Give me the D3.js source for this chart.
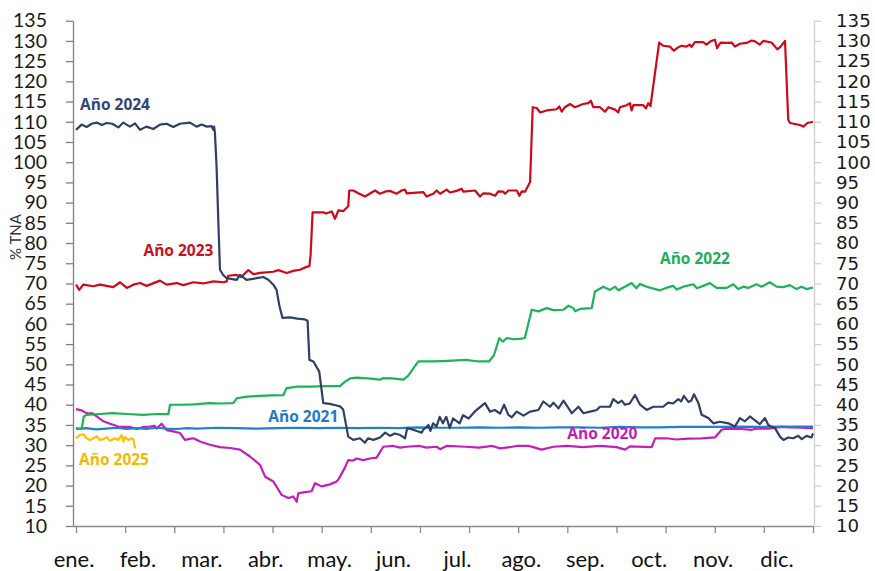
<!DOCTYPE html>
<html><head><meta charset="utf-8">
<script src="https://cdn.jsdelivr.net/npm/d3@7"></script>
<style>html,body{margin:0;padding:0;background:#fff}svg{display:block}</style>
</head><body>
<svg id="chart" width="875" height="571"></svg>
<script>
// ---------- DATA (day of year, % TNA) ----------
const months = ["ene.","feb.","mar.","abr.","may.","jun.","jul.","ago.","sep.","oct.","nov.","dic."];
const yTicks = [10,15,20,25,30,35,40,45,50,55,60,65,70,75,80,85,90,95,100,105,110,115,120,125,130,135];
const xTickDays = [0,24.4,48.8,73.2,97.6,122,146.4,170.8,195.2,219.6,244,268.4,292.8,317.2,341.6,366];

const s2020 = [[0,38.9],[2.8,38.6],[4.5,38.1],[6.1,37.8],[8,37.9],[10.3,37.1],[13.6,35.9],[16.9,35.3],[21,34.6],[23.5,34.5],[27,34.5],[30.1,34.0],[33.5,34.5],[36.8,34.6],[39,34.8],[40.1,34.1],[42.5,35.3],[45,33.7],[48.3,33.4],[51.6,33.0],[54.1,31.3],[56,31.5],[58.3,31.7],[61.6,30.9],[66.5,30.1],[71.5,29.5],[76.5,29.3],[81.4,28.9],[86.4,27.2],[91.4,25.1],[93.9,22.2],[98,21.0],[102.1,17.7],[105.4,16.9],[107.9,17.3],[109.6,16.0],[110.4,18.1],[112.9,18.3],[117,18.6],[118.7,20.6],[122,19.8],[126.1,20.3],[129.4,21.0],[130.3,21.5],[133.6,24.5],[135.2,26.3],[137.7,26.2],[139.4,26.7],[142.7,26.3],[146,26.7],[149.3,26.9],[152.6,29.6],[157.6,29.8],[161,29.4],[164.2,29.6],[170.8,29.8],[174,29.4],[179.1,29.6],[180.8,29.0],[184,29.8],[193.5,29.6],[200.1,29.4],[206.7,29.8],[210.6,29.2],[216.6,29.6],[218.9,29.8],[224.9,29.8],[227.1,29.5],[231.2,28.9],[237.1,29.6],[243.7,29.8],[251.9,29.5],[260.2,29.8],[268.5,29.5],[272.6,28.9],[275.1,29.7],[285.9,29.5],[287.6,31.7],[293.4,31.7],[298,31.4],[304.1,31.6],[310.7,31.7],[317.3,31.9],[320.6,33.8],[322.3,34.0],[330.6,34.0],[335.5,33.8],[338,34.1],[343.8,34.1],[350.4,34.5],[355,34.4],[360.4,34.3],[366,34.2]];

const s2021 = [[0,34.0],[5,34.2],[10,33.9],[15,34.1],[20,34.3],[25,34.0],[30,34.2],[35,34.0],[40,34.3],[45,34.1],[50,34.0],[55,34.2],[60,34.1],[70,34.3],[80,34.2],[90,34.1],[100,34.2],[110,34.3],[120,34.2],[130,34.3],[140,34.2],[150,34.3],[160,34.2],[170,34.4],[180,34.3],[190,34.3],[200,34.4],[210,34.3],[220,34.4],[230,34.3],[240,34.4],[250,34.4],[260,34.3],[270,34.5],[280,34.4],[290,34.4],[300,34.5],[310,34.5],[320,34.5],[330,34.6],[340,34.5],[350,34.6],[360,34.6],[366,34.6]];

const s2022 = [[0,34.2],[2.8,34.0],[3.9,37.1],[5.3,37.5],[11.9,37.7],[18,37.9],[25.2,37.7],[33.4,37.5],[40,37.7],[45.9,37.7],[46.7,40.0],[52,40.0],[58.3,40.1],[66.5,40.4],[72,40.3],[78.1,40.4],[79.8,41.6],[85,42.0],[91.4,42.2],[97,42.3],[103,42.4],[104.6,44.1],[110,44.5],[116.2,44.5],[124,44.6],[131.1,44.6],[133.6,45.7],[136.1,46.5],[139.4,46.7],[145,46.5],[151,46.2],[152.5,46.6],[157,46.5],[162.6,46.2],[165,47.2],[170,50.7],[177.1,50.7],[182,50.8],[186.9,50.9],[193.5,51.1],[200.1,50.7],[205.1,50.7],[207.6,52.3],[210.2,56.5],[211.9,55.6],[214,56.5],[217,56.2],[220.5,56.3],[222.9,56.5],[226.3,63.5],[229.6,63.1],[233.8,63.9],[237.1,63.4],[242.1,63.5],[244.6,64.5],[247,63.9],[247.8,63.1],[250.3,63.7],[256.1,63.9],[257.7,68.0],[261.9,69.2],[265.2,68.4],[267.7,69.2],[269.3,68.3],[272.6,69.2],[275.9,70.1],[278.3,68.8],[280,69.9],[283.4,69.2],[290,68.3],[293,68.9],[296.6,69.4],[298.3,68.5],[301.6,69.2],[306.6,69.8],[308.3,68.8],[311.5,69.4],[314.8,70.1],[318.1,68.9],[323.1,68.9],[326.4,69.8],[328.9,68.6],[331.3,69.2],[333.8,68.9],[337.9,69.8],[340.4,69.2],[344.5,70.3],[347.9,69.2],[351.2,69.1],[354.5,69.6],[357.8,68.6],[360.3,69.2],[362.8,68.6],[366,69.0]];

const s2023 = [[0,69.7],[1.6,68.4],[3.6,69.7],[8.6,69.3],[11.9,69.7],[18.5,69.1],[21.9,70.3],[25.2,68.9],[28.5,69.7],[31.8,70.1],[35.1,69.4],[41.7,70.7],[45,69.7],[50,70.1],[53.3,69.6],[58.3,70.3],[63.2,70.0],[68.2,70.5],[73.2,70.3],[74.8,70.5],[75.6,71.9],[79.8,72.1],[82,71.6],[85.6,73.3],[88.1,72.3],[91.4,72.6],[98,72.9],[100.5,73.3],[104.6,72.6],[107.9,73.1],[111.2,73.4],[114.5,74.1],[115.9,74.3],[116.5,77],[117.5,87.6],[122.8,87.6],[124.1,87.3],[127,87.8],[128.6,86.0],[130.3,88.1],[132.8,87.9],[135.2,89.1],[135.7,93.0],[137.7,93.0],[140.2,92.3],[143.5,91.5],[148.5,93.0],[150.9,92.2],[153.4,92.7],[155.9,92.9],[159.2,92.2],[161.7,93.0],[163.4,93.2],[164.2,92.3],[172.5,92.6],[174.1,91.5],[177.4,92.2],[179.1,93.0],[180.8,92.2],[184.1,93.2],[185.7,92.5],[189,92.9],[191.5,93.4],[192.4,92.7],[198.2,93.0],[200.6,91.5],[202.3,92.3],[205.6,92.2],[208.1,91.7],[209.8,92.8],[212.2,92.7],[213.1,92.2],[214.7,93.0],[218.9,93.0],[220.2,91.7],[221.4,92.8],[223,92.7],[225.5,95.1],[226.8,113.6],[228.8,113.4],[230.5,112.3],[233.8,112.8],[238.7,113.1],[240,113.8],[241.2,112.5],[242.8,113.6],[245.3,114.4],[247.8,113.6],[250.3,114.1],[251.9,114.4],[254.4,114.6],[255.7,115.2],[256.9,113.6],[260.2,113.6],[262.7,112.5],[264.4,113.6],[267.7,113.0],[269.3,112.3],[270.1,113.6],[273.4,114.1],[275.1,114.6],[275.9,112.8],[276.8,114.1],[281.7,114.1],[283,113.3],[284.2,114.6],[285.3,113.9],[289.6,129.6],[291.6,128.8],[294.9,128.6],[296.9,127.6],[299,128.4],[300.7,128.8],[303.2,128.6],[304.8,129.1],[305.7,128.5],[307.3,129.7],[311.5,129.7],[313.1,129.1],[315.1,129.9],[317.3,130.3],[318.4,128.2],[320.1,129.6],[323.1,129.5],[325.6,129.6],[327.2,128.6],[329.7,129.3],[333,129.5],[335.5,130.1],[337.2,129.9],[339.6,129.1],[341.3,130.0],[345.4,129.6],[348.3,127.9],[349.9,128.6],[352.1,130.0],[353.7,110.5],[354.6,109.7],[359.5,109.2],[361.2,108.8],[363.2,109.7],[366,110.0]];

const s2024 = [[0,108.0],[2.8,109.3],[5.3,108.7],[7.8,109.5],[10.3,109.8],[12.8,109.2],[15.2,109.7],[18,109.5],[21,108.6],[23.5,109.8],[26.8,108.8],[29.3,109.6],[31.8,108.0],[35,108.8],[38.4,108.2],[41.7,109.3],[45,109.5],[48.3,108.7],[51.6,109.5],[56.6,109.8],[59.9,108.8],[62.4,109.3],[64.9,108.8],[67.4,108.9],[68.2,108.0],[68.6,108.8],[69,107.2],[69.8,98.9],[70.6,86.6],[71.5,73.4],[73.1,72.1],[74.8,71.3],[79.8,70.9],[81.4,72.1],[84.7,70.9],[89.7,71.3],[93,71.6],[95.5,70.9],[98,69.7],[99.6,68.4],[101,64.5],[102.5,61.5],[106.3,61.6],[110,61.3],[113.7,61.1],[115,60.8],[115.9,51.1],[117.9,50.7],[120.8,48.2],[122.8,40.4],[126.1,40.2],[129.4,39.8],[131.1,39.6],[132.7,38.8],[135.2,32.1],[137.7,31.3],[141,31.7],[143.5,30.6],[145,31.7],[147.7,31.3],[151,31.9],[153.5,33.1],[156,32.3],[158.4,32.9],[161,32.5],[163.4,31.7],[164.5,34.2],[167,33.9],[169.2,33.5],[171.7,33.1],[172.5,33.9],[173.4,34.2],[175,35.0],[176,33.5],[177.3,35.4],[179,34.6],[180.6,37.0],[182.2,35.4],[183.9,37.0],[185.6,34.2],[187.2,36.6],[190.5,35.4],[192.2,37.4],[195,36.6],[198.4,38.5],[203.1,40.4],[205.6,38.3],[208,38.7],[210.6,37.8],[212.6,40.0],[214.7,37.5],[216.4,36.9],[218.9,38.3],[222.2,37.3],[225.5,38.3],[229.6,38.7],[232.1,40.8],[235.4,39.5],[237.1,40.5],[239.6,39.1],[242.1,41.0],[246.2,37.9],[249.5,39.5],[252,37.9],[255.3,38.3],[258.6,38.7],[260.2,39.5],[265.2,39.5],[266.8,41.4],[269.3,40.4],[271,41.0],[272.6,40.0],[275,40.3],[277.6,42.4],[280.1,40.0],[283.4,38.7],[286.7,39.5],[291.6,39.5],[294.1,40.5],[296.5,40.3],[299.1,41.4],[300.5,40.8],[301.9,42.2],[304.1,40.7],[305.5,41.0],[306.9,42.6],[309.1,40.4],[310.7,37.5],[314,36.7],[316.5,35.4],[319.8,35.8],[324,35.4],[327.2,34.6],[329.7,36.7],[332.2,35.9],[334.7,37.1],[337.2,36.1],[339.6,35.2],[342.1,36.7],[343.8,35.0],[347.1,34.2],[349.6,32.1],[351.3,31.3],[353.7,31.9],[356.2,31.7],[358.7,32.3],[360.4,31.5],[362.8,32.3],[365.3,31.9],[366,32.9]];

const s2025 = [[0,31.7],[1.9,32.5],[3.6,32.7],[5.3,31.7],[6.9,31.3],[8.6,31.7],[10.3,32.2],[11.9,31.3],[13.6,31.5],[15.2,32.0],[16.9,31.1],[19.4,31.7],[21,31.3],[22.7,32.5],[23.5,30.9],[24.3,32.0],[26,31.3],[27.6,31.7],[28.5,31.4],[29.3,29.2]];

const seriesNames = ["Año 2020","Año 2021","Año 2022","Año 2023","Año 2024","Año 2025"];
const seriesData  = [s2020, s2021, s2022, s2023, s2024, s2025];
// label anchors (day, value) for the series names
const labelAnchors = [[244,31.6],[95.5,35.7],[290,74.8],[33.5,76.7],[2,113],[1.5,25.2]];

// ---------- STYLE ----------
const lineColors  = ["#C21FB8","#1F80CF","#1EB25A","#CC0A1A","#2F3F66","#FFC000"];
const labelColors = ["#C41AB5","#1E7AC8","#1DAE57","#C8101E","#2E4676","#F5B800"];

const svg = d3.select("#chart");
const x = d3.scaleLinear().domain([0,366]).range([76,813]);
const y = d3.scaleLinear().domain([10,135]).range([526,20.7]);

// left axis
const gL = svg.append("g").attr("transform","translate(73,0)")
  .call(d3.axisLeft(y).tickValues(yTicks).tickSize(7).tickSizeOuter(0).tickPadding(19));
gL.select(".domain").attr("stroke","#7f7f7f").attr("stroke-width",1.3);
gL.selectAll(".tick line").attr("stroke","#7f7f7f").attr("stroke-width",1.3);
gL.selectAll(".tick text").attr("font-family","Lato, 'Open Sans', sans-serif")
  .attr("font-size","19.5px").attr("fill","#1a1a1a");

// right axis
const gR = svg.append("g").attr("transform","translate(814,0)")
  .call(d3.axisRight(y).tickValues(yTicks).tickSize(7).tickSizeOuter(0).tickPadding(15));
gR.select(".domain").attr("stroke","#d0d0d0").attr("stroke-width",1.3);
gR.selectAll(".tick line").attr("stroke","#d0d0d0").attr("stroke-width",1.3);
gR.selectAll(".tick text").attr("font-family","'DejaVu Sans', Verdana, sans-serif")
  .attr("font-size","18.2px").attr("fill","#1a1a1a");

// bottom axis
const gB = svg.append("g").attr("transform","translate(0,526)")
  .call(d3.axisBottom(x).tickValues(xTickDays).tickFormat("").tickSize(7).tickSizeOuter(0));
gB.select(".domain").remove();
gB.selectAll(".tick line").attr("stroke","#8a8a8a").attr("stroke-width",1.3);
svg.append("line").attr("x1",73).attr("x2",814).attr("y1",526.5).attr("y2",526.5)
  .attr("stroke","#8a8a8a").attr("stroke-width",1.3);

// month labels
const xm = d3.scalePoint().domain(months).range([74,777]);
svg.append("g").selectAll("text").data(months).join("text")
  .attr("x",d=>xm(d)).attr("y",567).attr("text-anchor","middle")
  .attr("font-family","Lato, 'Open Sans', sans-serif").attr("font-size","22px")
  .attr("fill","#111").text(d=>d);

// y axis title
svg.append("text").attr("transform","translate(21,237) rotate(-90)")
  .attr("text-anchor","middle").attr("font-family","Lato, 'Open Sans', sans-serif")
  .attr("font-size","15px").attr("fill","#333").text("% TNA");

// lines
const line = d3.line().x(d=>x(d[0])).y(d=>y(d[1]));
svg.append("g").selectAll("path").data(seriesData).join("path")
  .attr("d",line).attr("fill","none")
  .attr("stroke",(d,i)=>lineColors[i]).attr("stroke-width",2.2)
  .attr("stroke-linejoin","round");

// series labels
svg.append("g").selectAll("text").data(seriesNames).join("text")
  .attr("x",(d,i)=>x(labelAnchors[i][0])).attr("y",(d,i)=>y(labelAnchors[i][1]))
  .attr("font-family","'Open Sans', sans-serif").attr("font-weight",700)
  .attr("font-size","15.5px").attr("fill",(d,i)=>labelColors[i]).text(d=>d);
</script>
</body></html>
